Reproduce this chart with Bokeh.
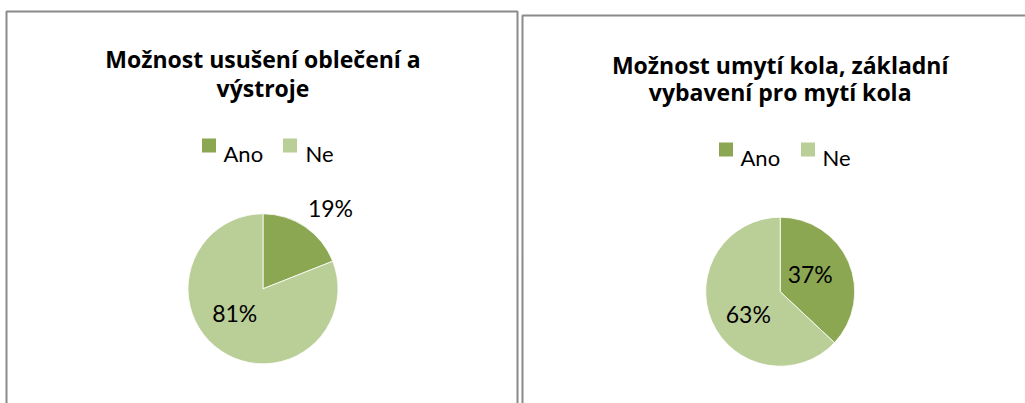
import math
from bokeh.plotting import figure
from bokeh.models import Range1d, ColumnDataSource
from bokeh.embed import file_html
from bokeh.resources import INLINE
from bokeh.core.properties import value

# ---- data ----
categories = ["Ano", "Ne"]
values_left = [19, 81]
values_right = [37, 63]
title_left = ["Možnost usušení oblečení a", "výstroje"]
title_right = ["Možnost umytí kola, základní", "vybavení pro mytí kola"]
colors = ["#8CA752", "#BACE97"]

# ---- layout (page pixels; the figure sits at the page origin) ----
W, H = 1025, 403
def X(px): return px
def Y(py): return H - py

FONT = "Lato"
TFONT = "Open Sans"

p = figure(width=W, height=H, x_range=Range1d(0, W), y_range=Range1d(0, H),
           output_backend="svg", toolbar_location=None, min_border=0)
p.axis.visible = False
p.grid.visible = False
p.outline_line_color = None
p.background_fill_color = "white"
p.border_fill_color = "white"

# panel borders
border_col = "#8A8A8A"
p.line(x=[X(6), X(6), X(517), X(517)], y=[Y(410), Y(11), Y(11), Y(410)],
       line_color=border_col, line_width=2)
p.line(x=[X(522), X(522), X(1030)], y=[Y(410), Y(15), Y(15)],
       line_color=border_col, line_width=2)

def draw_panel(vals, titles, cx, cy, r, title_y, legend_sq_x, legend_txt_x, legend_y,
               lab_angles, lab_radii):
    total = float(sum(vals))
    starts, ends = [], []
    a = math.pi / 2
    for v in vals:
        starts.append(a)
        a = a - 2 * math.pi * v / total
        ends.append(a)
    src = ColumnDataSource(dict(start=starts, end=ends, color=colors, cat=categories))
    p.wedge(x=X(cx), y=Y(cy), radius=r, start_angle="start", end_angle="end",
            direction="clock", fill_color="color", line_color="white", line_width=0.8,
            source=src)
    # labels
    lx = [X(cx) + rr * r * math.cos(math.radians(ang)) for ang, rr in zip(lab_angles, lab_radii)]
    ly = [Y(cy) + rr * r * math.sin(math.radians(ang)) for ang, rr in zip(lab_angles, lab_radii)]
    labels = ["%d%%" % round(100 * v / total) for v in vals]
    p.text(x=lx, y=ly, text=labels, text_font=value(FONT), text_font_size="23px",
           text_align="center", text_baseline="middle", text_color="black")
    # title (centred over the pie)
    p.text(x=[X(cx)] * 2, y=[Y(title_y[0]), Y(title_y[1])], text=titles,
           text_font=value(TFONT), text_font_size="23px", text_font_style="bold",
           text_align="center", text_baseline="alphabetic", text_color="black")
    # legend
    p.rect(x=[X(v) for v in legend_sq_x], y=[Y(legend_y - 7.5)] * 2, width=14, height=14,
           fill_color=colors, line_color=None)
    p.text(x=[X(v) for v in legend_txt_x], y=[Y(legend_y)] * 2, text=categories,
           text_font=value(FONT), text_font_size="22px", text_align="left",
           text_baseline="alphabetic", text_color="black")

draw_panel(values_left, title_left, 262.5, 288.3, 75, (58, 87),
           [208.5, 289.5], [223, 305], 152.5, [50, 221], [1.4, 0.5])
draw_panel(values_right, title_right, 779.7, 291.2, 74.5, (64, 91),
           [725.5, 807.5], [740, 822], 156.5, [31, 214.5], [0.47, 0.52])

open("out.html", "w").write(file_html(p, INLINE))
